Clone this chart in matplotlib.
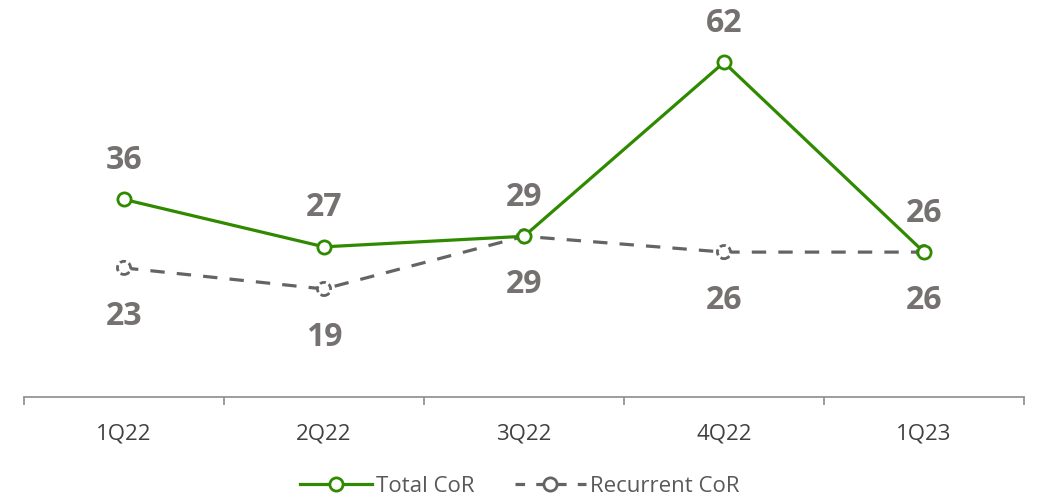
import matplotlib
matplotlib.use("Agg")
import matplotlib.pyplot as plt
from matplotlib.lines import Line2D

plt.rcParams["font.family"] = ["Open Sans", "DejaVu Sans"]

quarters = ["1Q22", "2Q22", "3Q22", "4Q22", "1Q23"]
total_cor = [36, 27, 29, 62, 26]
recurrent_cor = [23, 19, 29, 26, 26]

GREEN = "#2F8A00"
GREY = "#646464"
LABEL = "#767171"

fig = plt.figure(figsize=(10.4, 4.99), dpi=100)
ax = fig.add_axes([0.0231, 0.2044, 0.9615, 0.755])

x = list(range(len(quarters)))

# recurrent: dashed line + dashed-outline circles
ax.plot(x, recurrent_cor, color=GREY, linewidth=2.3, linestyle=(0, (4.5, 3.8)),
        zorder=2)
ax.scatter(x, recurrent_cor, s=90, facecolors="white", edgecolors=GREY,
           linewidths=2.0, linestyles=(0, (2.2, 1.2)), zorder=3)

# total: solid line + open circles
ax.plot(x, total_cor, color=GREEN, linewidth=2.3, marker="o", markersize=9.5,
        markerfacecolor="white", markeredgecolor=GREEN, markeredgewidth=2.0,
        zorder=4)

for xi, v in zip(x, total_cor):
    ax.annotate(f"{v}", xy=(xi, v), xytext=(0, 28), textcoords="offset points",
                ha="center", va="center", fontsize=23, fontweight="bold",
                color=LABEL)
for xi, v in zip(x, recurrent_cor):
    ax.annotate(f"{v}", xy=(xi, v), xytext=(0, -35), textcoords="offset points",
                ha="center", va="center", fontsize=23, fontweight="bold",
                color=LABEL)

ax.set_xlim(-0.5, len(quarters) - 0.5)
ax.set_ylim(-1.5, 70)
ax.set_yticks([])
for side in ["top", "right", "left"]:
    ax.spines[side].set_visible(False)
ax.spines["bottom"].set_color("#8C8C8C")
ax.spines["bottom"].set_linewidth(1.2)

# category labels centred, tick marks on boundaries
ax.set_xticks(x)
ax.set_xticklabels(quarters, fontsize=16, color="#404040")
ax.tick_params(axis="x", which="major", length=0, pad=19)
ax.set_xticks([i - 0.5 for i in range(len(quarters) + 1)], minor=True)
ax.tick_params(axis="x", which="minor", length=6, width=1.2, color="#8C8C8C",
               direction="out")

handles = [
    Line2D([], [], color=GREEN, linewidth=2.3, marker="o", markersize=9.5,
           markerfacecolor="white", markeredgecolor=GREEN, markeredgewidth=2.0),
    Line2D([], [], color=GREY, linewidth=2.3, linestyle=(0, (3, 3.5)),
           marker="o", markersize=9.5, markerfacecolor="white",
           markeredgecolor=GREY, markeredgewidth=2.0),
]
leg = fig.legend(handles, ["Total CoR", "Recurrent CoR"], loc="center",
                 bbox_to_anchor=(0.5, 0.025), ncol=2, frameon=False,
                 fontsize=16, handlelength=3.2, columnspacing=1.8,
                 handletextpad=0.2)
for t in leg.get_texts():
    t.set_color("#595959")

fig.savefig("out.png", dpi=100)
